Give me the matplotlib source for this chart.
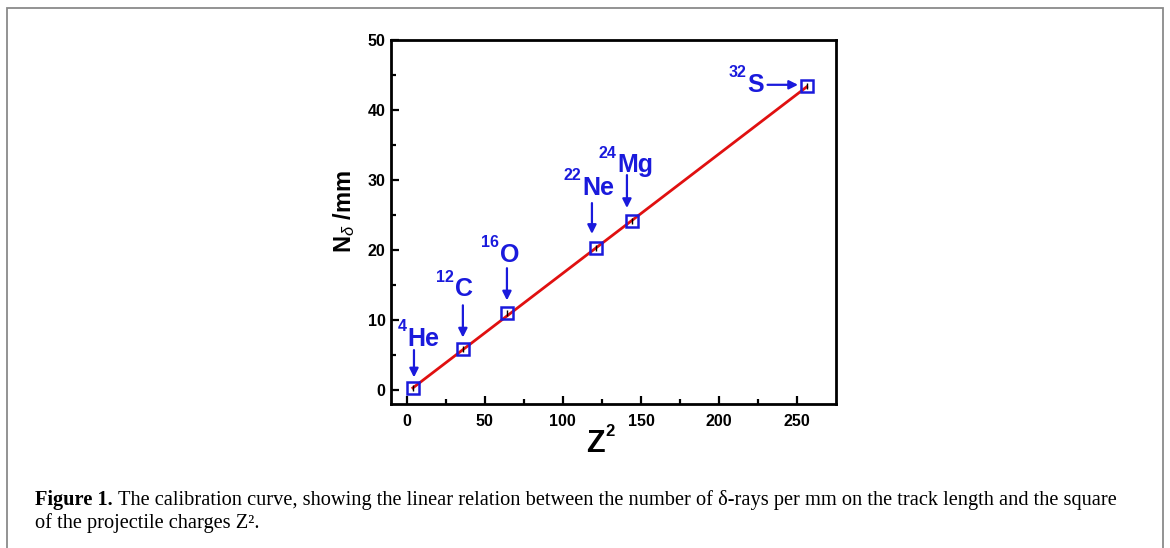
import matplotlib
matplotlib.use("Agg")
import matplotlib.pyplot as plt
from matplotlib.patches import Rectangle

# ---- data ----
z2 = [4, 36, 64, 121, 144, 256]
n_delta = [0.3, 5.9, 11.0, 20.3, 24.2, 43.4]
fit_x = [4, 256]
fit_y = [0.3, 43.3]
isotopes = ["He", "C", "O", "Ne", "Mg", "S"]
mass_numbers = ["4", "12", "16", "22", "24", "32"]
xticks = [0, 50, 100, 150, 200, 250]
yticks = [0, 10, 20, 30, 40, 50]

plt.rcParams['font.family'] = ['Liberation Sans', 'DejaVu Sans']
plt.rcParams['mathtext.fontset'] = 'custom'
plt.rcParams['mathtext.rm'] = 'Liberation Sans'
plt.rcParams['mathtext.bf'] = 'Liberation Sans:bold'
plt.rcParams['mathtext.it'] = 'Liberation Sans:italic'

W, H = 1170, 548
BLUE = '#1a1adc'
fig = plt.figure(figsize=(W / 100, H / 100), dpi=100)
fig.patches.append(Rectangle((7 / W, -0.1), (1163 - 7) / W, 1 - 8 / H + 0.1,
                             transform=fig.transFigure, fill=False,
                             edgecolor='#8a8a8a', lw=1.3))
ax = fig.add_axes([391 / W, 1 - 404 / H, (836 - 391) / W, (404 - 40) / H])

ax.plot(fit_x, fit_y, color='#e01010', lw=2.0, zorder=2)
ax.plot(z2, n_delta, linestyle='none', marker='s', markersize=8.3,
        markerfacecolor='none', markeredgecolor=BLUE, markeredgewidth=1.8, zorder=3)
ax.plot(z2, n_delta, linestyle='none', marker='|', markersize=4,
        color='black', markeredgewidth=1.0, zorder=4)

ax.set_xlim(-10, 274.8)
ax.set_ylim(-2, 50)
ax.set_xticks(xticks)
ax.set_yticks(yticks)
ax.set_xticks([25, 75, 125, 175, 225], minor=True)
ax.set_yticks([5, 15, 25, 35, 45], minor=True)
ax.tick_params(which='both', direction='in', top=False, right=False, width=1.6)
ax.tick_params(which='major', length=6, labelsize=11.5)
ax.tick_params(axis='y', which='major', pad=4)
ax.tick_params(axis='x', which='major', pad=7)
ax.tick_params(which='minor', length=3.5)
for lab in ax.get_xticklabels() + ax.get_yticklabels():
    lab.set_fontweight('bold')
for s in ax.spines.values():
    s.set_linewidth(2.0)

# axis labels
fig.text(586 / W, 1 - 452 / H, 'Z', fontsize=22, fontweight='bold',
         ha='left', va='baseline')
fig.text(605 / W, 1 - 436 / H, '2', fontsize=12, fontweight='bold',
         ha='left', va='baseline')
fig.text(344 / W, 1 - 212 / H, r'$\mathbf{N}_{\delta}$ $\mathbf{/mm}$', fontsize=17,
         rotation=90, ha='center', va='center')

# annotations: main-text anchor (left, baseline), arrow start, arrow end
text_pos = [(0.5, 6.3), (30.9, 13.4), (59.7, 18.3), (112.2, 27.9), (134.6, 31.1), (217.8, 42.6)]
arrow_from = [(4.7, 5.7), (36, 12.1), (64.2, 17.4), (118.6, 26.7), (141, 30.7), (231.0, 43.6)]
arrow_to = [(4.7, 1.8), (36, 7.5), (64.2, 12.8), (118.6, 22.3), (141, 26.0), (250.5, 43.6)]

for name, mass, (tx, ty), a0, a1 in zip(isotopes, mass_numbers, text_pos, arrow_from, arrow_to):
    ax.text(tx, ty, name, color=BLUE, fontsize=18, fontweight='bold',
            ha='left', va='baseline')
    ax.annotate(mass, xy=(tx, ty), xytext=(-0.5, 10.5), textcoords='offset points',
                color=BLUE, fontsize=11.5, fontweight='bold', ha='right', va='baseline')
    ax.annotate('', xy=a1, xytext=a0,
                arrowprops=dict(arrowstyle='-|>', color=BLUE, lw=1.6,
                                mutation_scale=13, shrinkA=0, shrinkB=0))

# caption
fs = 14.7
y1 = 1 - 505 / H
y2 = 1 - 528 / H
t1 = fig.text(35 / W, y1, 'Figure 1.', fontsize=fs, fontweight='bold',
              family='Liberation Serif', va='baseline', ha='left')
fig.canvas.draw()
bb = t1.get_window_extent()
fig.text((bb.x1 + 5) / W, y1,
         'The calibration curve, showing the linear relation between the number of δ-rays per mm on the track length and the square',
         fontsize=fs, family='Liberation Serif', va='baseline', ha='left')
fig.text(35 / W, y2, 'of the projectile charges Z².',
         fontsize=fs, family='Liberation Serif', va='baseline', ha='left')

fig.savefig('out.png', dpi=100)
